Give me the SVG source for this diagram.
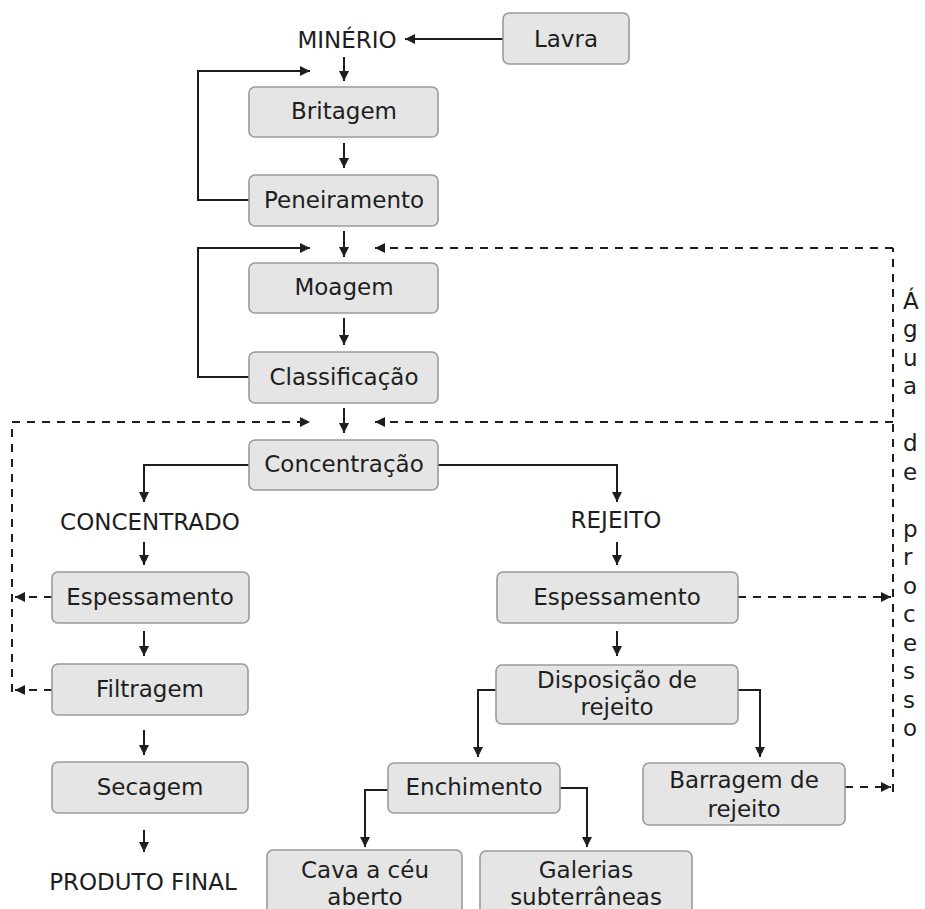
<svg xmlns="http://www.w3.org/2000/svg" width="925" height="909" viewBox="0 0 925 909">
<style>
.box{fill:#e5e5e5;stroke:#9a9a9a;stroke-width:1.6}
.t{font-family:"DejaVu Sans","Verdana",sans-serif;font-size:23px;fill:#1e1e1e;text-anchor:middle}
.w{font-family:"DejaVu Sans","Verdana",sans-serif;font-size:23px;fill:#1e1e1e}
.c{fill:none;stroke:#1e1e1e;stroke-width:2}
.d{fill:none;stroke:#1e1e1e;stroke-width:2;stroke-dasharray:8 7}
</style>
<defs>
<marker id="ah" viewBox="0 0 10 10" refX="10" refY="5" markerWidth="10" markerHeight="10" markerUnits="userSpaceOnUse" orient="auto">
<path d="M0,0 L10,5 L0,10 z" fill="#1e1e1e"/>
</marker>
</defs>
<rect width="925" height="909" fill="#fff"/>
<g id="connectors">
<path class="c" d="M503,39 L405,39" marker-end="url(#ah)"/>
<path class="c" d="M344,57 L344,81" marker-end="url(#ah)"/>
<path class="c" d="M249,200 L198,200 L198,71 L310,71" marker-end="url(#ah)"/>
<path class="c" d="M344,143 L344,168" marker-end="url(#ah)"/>
<path class="c" d="M344,231 L344,257" marker-end="url(#ah)"/>
<path class="c" d="M249,377 L198,377 L198,248 L310,248" marker-end="url(#ah)"/>
<path class="c" d="M344,318 L344,345" marker-end="url(#ah)"/>
<path class="c" d="M344,408 L344,433" marker-end="url(#ah)"/>
<path class="c" d="M249,465 L144,465 L144,502" marker-end="url(#ah)"/>
<path class="c" d="M438,465 L617,465 L617,502" marker-end="url(#ah)"/>
<path class="c" d="M144,542 L144,565" marker-end="url(#ah)"/>
<path class="c" d="M617,542 L617,565" marker-end="url(#ah)"/>
<path class="c" d="M144,631 L144,656" marker-end="url(#ah)"/>
<path class="c" d="M144,730 L144,755" marker-end="url(#ah)"/>
<path class="c" d="M144,830 L144,852" marker-end="url(#ah)"/>
<path class="c" d="M617,631 L617,656" marker-end="url(#ah)"/>
<path class="c" d="M496,690 L478,690 L478,757" marker-end="url(#ah)"/>
<path class="c" d="M738,690 L760,690 L760,757" marker-end="url(#ah)"/>
<path class="c" d="M388,790 L365,790 L365,847" marker-end="url(#ah)"/>
<path class="c" d="M560,788 L587,788 L587,847" marker-end="url(#ah)"/>
<path class="d" d="M893,792 L893,248"/>
<path class="d" d="M893,248 L375,248" marker-end="url(#ah)"/>
<path class="d" d="M893,422 L375,422" marker-end="url(#ah)"/>
<path class="d" d="M12,692 L12,422 L310,422" marker-end="url(#ah)"/>
<path class="d" d="M52,597 L15,597" marker-end="url(#ah)"/>
<path class="d" d="M52,690 L15,690" marker-end="url(#ah)"/>
<path class="d" d="M738,597 L891,597" marker-end="url(#ah)"/>
<path class="d" d="M845,787 L891,787" marker-end="url(#ah)"/>
</g>
<g id="lavra"><rect class="box" x="503" y="13" width="126" height="51" rx="6"/><text class="t" x="566" y="47">Lavra</text></g>
<g id="minerio"><text class="t" x="347" y="48">MINÉRIO</text></g>
<g id="britagem"><rect class="box" x="249" y="87" width="189" height="50" rx="6"/><text class="t" x="344" y="119">Britagem</text></g>
<g id="peneiramento"><rect class="box" x="249" y="175" width="189" height="51" rx="6"/><text class="t" x="344" y="208">Peneiramento</text></g>
<g id="moagem"><rect class="box" x="249" y="263" width="189" height="50" rx="6"/><text class="t" x="344" y="295">Moagem</text></g>
<g id="classificacao"><rect class="box" x="249" y="352" width="189" height="51" rx="6"/><text class="t" x="344" y="385">Classificação</text></g>
<g id="concentracao"><rect class="box" x="249" y="440" width="189" height="50" rx="6"/><text class="t" x="344" y="472">Concentração</text></g>
<g id="concentrado"><text class="t" x="150" y="530">CONCENTRADO</text></g>
<g id="rejeito"><text class="t" x="616" y="528">REJEITO</text></g>
<g id="espessamento1"><rect class="box" x="52" y="572" width="197" height="51" rx="6"/><text class="t" x="150" y="605">Espessamento</text></g>
<g id="espessamento2"><rect class="box" x="497" y="572" width="241" height="51" rx="6"/><text class="t" x="617" y="605">Espessamento</text></g>
<g id="filtragem"><rect class="box" x="52" y="664" width="196" height="51" rx="6"/><text class="t" x="150" y="697">Filtragem</text></g>
<g id="secagem"><rect class="box" x="52" y="762" width="196" height="51" rx="6"/><text class="t" x="150" y="795">Secagem</text></g>
<g id="produto"><text class="t" x="143" y="890">PRODUTO FINAL</text></g>
<g id="disposicao"><rect class="box" x="496" y="665" width="242" height="59" rx="6"/><text class="t" x="617" y="688">Disposição de</text><text class="t" x="617" y="715">rejeito</text></g>
<g id="enchimento"><rect class="box" x="388" y="763" width="172" height="50" rx="6"/><text class="t" x="474" y="795">Enchimento</text></g>
<g id="barragem"><rect class="box" x="643" y="763" width="202" height="62" rx="6"/><text class="t" x="744" y="788">Barragem de</text><text class="t" x="744" y="817">rejeito</text></g>
<g id="cava"><rect class="box" x="267" y="850" width="195" height="70" rx="6"/><text class="t" x="365" y="878">Cava a céu</text><text class="t" x="365" y="905">aberto</text></g>
<g id="galerias"><rect class="box" x="480" y="851" width="212" height="70" rx="6"/><text class="t" x="586" y="878">Galerias</text><text class="t" x="586" y="905">subterrâneas</text></g>
<g id="agua">
<text class="w" x="903" y="309">Á</text>
<text class="w" x="903" y="337">g</text>
<text class="w" x="903" y="366">u</text>
<text class="w" x="903" y="394">a</text>
<text class="w" x="903" y="451">d</text>
<text class="w" x="903" y="480">e</text>
<text class="w" x="903" y="537">p</text>
<text class="w" x="903" y="565">r</text>
<text class="w" x="903" y="594">o</text>
<text class="w" x="903" y="622">c</text>
<text class="w" x="903" y="651">e</text>
<text class="w" x="903" y="679">s</text>
<text class="w" x="903" y="708">s</text>
<text class="w" x="903" y="736">o</text>
</g>
</svg>
